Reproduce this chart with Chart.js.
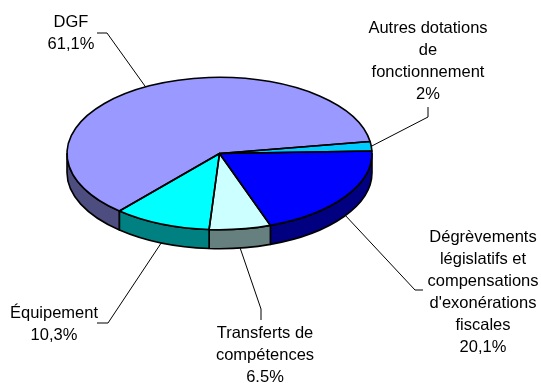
<!DOCTYPE html>
<html>
<head>
<meta charset="utf-8">
<script src="https://cdn.jsdelivr.net/npm/chart.js@4/dist/chart.umd.min.js"></script>
<style>
  html, body { margin: 0; padding: 0; background: #fff; }
  #wrap { position: relative; width: 541px; height: 383px; }
</style>
</head>
<body>
<div id="wrap"><canvas id="chart-pie"></canvas></div>
<script>
// Categories (wrapped as displayed), values and value labels
const categories = [
  ['DGF'],
  ['Autres dotations', 'de', 'fonctionnement'],
  ['Dégrèvements', 'législatifs et', 'compensations', "d'exonérations", 'fiscales'],
  ['Transferts de', 'compétences'],
  ['Équipement'],
];
const values = [61.1, 2, 20.1, 6.5, 10.3];
const valueLabels = ['61,1%', '2%', '20,1%', '6.5%', '10,3%'];

const topColors = ['#9999ff', '#00ccff', '#0000ff', '#ccffff', '#00ffff'];
const sideColors = ['#4d4d80', '#006680', '#000080', '#668080', '#008080'];

// 3D look
const TILT = 0.5;   // vertical squash of the disc
const DEPTH = 19;   // wall height in px

// Label placement: first-line centre, leader elbow and leader end
const labelLayout = [
  { x: 71, y: 22, elbow: [107, 33], end: [97, 33] },
  { x: 428, y: 28, elbow: [428, 117], end: [428, 107] },
  { x: 483, y: 237, elbow: [415, 290], end: [423, 290] },
  { x: 265, y: 333, elbow: [261, 309], end: [261, 320] },
  { x: 54, y: 313, elbow: [108, 323], end: [97, 323] },
];
const LINE_H = 22;
const FONT = '16.5px "Liberation Sans", Arial, sans-serif';

function ellipsePath(ctx, cx, cy, fn) {
  ctx.save();
  ctx.translate(cx, cy);
  ctx.scale(1, TILT);
  fn();
  ctx.restore();
}

const pie3d = {
  id: 'pie3d',
  beforeDatasetsDraw(chart) {
    const ctx = chart.ctx;
    const arcs = chart.getDatasetMeta(0).data;
    ctx.lineWidth = 1.6;
    ctx.strokeStyle = '#000';
    ctx.lineJoin = 'round';
    // front walls: only the part of each slice lying in the lower half
    arcs.forEach((el, i) => {
      const { x, y, startAngle, endAngle, outerRadius } = el.getProps(['x', 'y', 'startAngle', 'endAngle', 'outerRadius']);
      for (let k = -1; k <= 2; k++) {
        const a1 = Math.max(startAngle, 2 * Math.PI * k);
        const a2 = Math.min(endAngle, 2 * Math.PI * k + Math.PI);
        if (a2 <= a1) continue;
        ctx.beginPath();
        ellipsePath(ctx, x, y, () => {
          ctx.arc(0, 0, outerRadius, a1, a2);
          ctx.arc(0, DEPTH / TILT, outerRadius, a2, a1, true);
          ctx.closePath();
        });
        ctx.fillStyle = sideColors[i];
        ctx.fill();
        ctx.stroke();
      }
    });
    // squash the top faces drawn by Chart.js
    const { x, y } = arcs[0];
    ctx.save();
    ctx.translate(x, y);
    ctx.scale(1, TILT);
    ctx.translate(-x, -y);
  },
  afterDatasetsDraw(chart) {
    const ctx = chart.ctx;
    ctx.restore();
    const arcs = chart.getDatasetMeta(0).data;
    ctx.lineWidth = 1.6;
    ctx.strokeStyle = '#000';
    arcs.forEach((el) => {
      const { x, y, startAngle, endAngle, outerRadius } = el.getProps(['x', 'y', 'startAngle', 'endAngle', 'outerRadius']);
      ctx.beginPath();
      ellipsePath(ctx, x, y, () => {
        ctx.moveTo(0, 0);
        ctx.arc(0, 0, outerRadius, startAngle, endAngle);
        ctx.closePath();
      });
      ctx.stroke();
    });

    // leader lines and labels
    ctx.font = FONT;
    ctx.textAlign = 'center';
    ctx.textBaseline = 'middle';
    ctx.fillStyle = '#000';
    arcs.forEach((el, i) => {
      const { x, y, startAngle, endAngle, outerRadius } = el.getProps(['x', 'y', 'startAngle', 'endAngle', 'outerRadius']);
      const mid = (startAngle + endAngle) / 2;
      const s = Math.sin(mid);
      const px = x + outerRadius * Math.cos(mid);
      const py = y + outerRadius * TILT * s + (s > 0 ? DEPTH : 0);
      const lay = labelLayout[i];
      ctx.beginPath();
      ctx.lineWidth = 1;
      ctx.moveTo(px, py);
      ctx.lineTo(lay.elbow[0], lay.elbow[1]);
      ctx.lineTo(lay.end[0], lay.end[1]);
      ctx.stroke();
      const lines = categories[i].concat([valueLabels[i]]);
      lines.forEach((t, j) => ctx.fillText(t, lay.x, lay.y + j * LINE_H));
    });
  },
};

new Chart(document.getElementById('chart-pie'), {
  type: 'pie',
  data: {
    labels: categories,
    datasets: [{
      data: values,
      backgroundColor: topColors,
      borderWidth: 0,
    }],
  },
  options: {
    responsive: true,
    maintainAspectRatio: false,
    animation: false,
    events: [],
    rotation: 221,
    layout: { padding: { left: 67, right: 169, top: 1, bottom: 77 } },
    plugins: { legend: { display: false }, tooltip: { enabled: false } },
  },
  plugins: [pie3d],
});
</script>
</body>
</html>
